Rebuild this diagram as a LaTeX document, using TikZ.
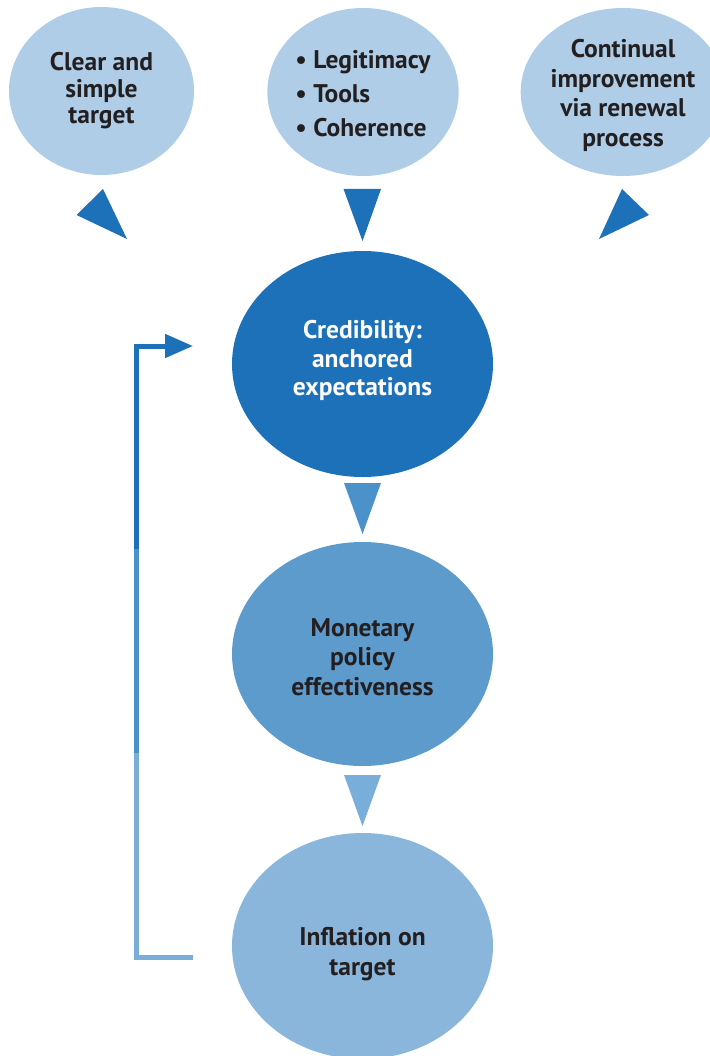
\documentclass[tikz,border=0pt]{standalone}
\usepackage{fontspec}
\setmainfont{PT Sans}
\usepackage{tikz}
\usetikzlibrary{shapes.geometric,arrows.meta}
\definecolor{paleblue}{HTML}{AFCDE7}
\definecolor{deepblue}{HTML}{1D71B8}
\definecolor{midblue}{HTML}{5D9BCD}
\definecolor{midtri}{HTML}{4C92CA}
\definecolor{lightblue}{HTML}{8AB6DC}
\definecolor{lighttri}{HTML}{7AAEDA}
\definecolor{inktext}{HTML}{231F20}
\newcommand{\txt}[1]{\fontsize{25.5}{#1}\selectfont\bfseries}

\begin{document}
\begin{tikzpicture}[x=1pt,y=-1pt]
        \useasboundingbox (0,0) rectangle (709,1056);

        \node[shape=ellipse,fill=paleblue,inner sep=0pt,minimum width=185pt,minimum height=168pt,text=inktext,align=center,font=\txt{26.5}] (clear) at (101.5,91) {Clear and\\simple\\target};
        \node[shape=ellipse,fill=paleblue,inner sep=0pt,minimum width=185pt,minimum height=168pt,text=inktext,align=left,font=\txt{34}] (legit) at (363,92) {\rule{0pt}{22pt}\textbullet\ Legitimacy\\\textbullet\ Tools\\\textbullet\ Coherence};
        \node[shape=ellipse,fill=paleblue,inner sep=0pt,minimum width=185pt,minimum height=168pt,text=inktext,align=center,font=\txt{29.5}] (renew) at (623,92) {\rule{0pt}{25pt}Continual\\improvement\\via renewal\\process};

        \node[shape=ellipse,fill=deepblue,inner sep=0pt,minimum width=261pt,minimum height=226pt,text=white,align=center,font=\txt{28.5}] (cred) at (362.5,364) {Credibility:\\anchored\\expectations\rule[-12pt]{0pt}{12pt}};
        \node[shape=ellipse,fill=midblue,inner sep=0pt,minimum width=261pt,minimum height=224pt,text=inktext,align=center,font=\txt{29.5}] (effect) at (362.5,654) {\rule{0pt}{24pt}Monetary\\policy\\effectiveness};
        \node[shape=ellipse,fill=lightblue,inner sep=0pt,minimum width=261pt,minimum height=226pt,text=inktext,align=center,font=\txt{30}] (infl) at (362.5,946) {\rule{0pt}{35pt}Inflation on\\target};

        %pointers round the top
        \fill[deepblue] (76.5,215) -- (103,189) -- (127,239) -- cycle;
        \fill[deepblue] (343.5,189) -- (381,189) -- (362.5,241) -- cycle;
        \fill[deepblue] (622,189) -- (649,215) -- (599,239) -- cycle;

        %pointers down the chain
        \fill[midtri] (344,483) -- (381,483) -- (362.5,534) -- cycle;
        \fill[lighttri] (344,775) -- (381,775) -- (362.5,826) -- cycle;

        %feedback from inflation back to credibility
        \coordinate (fbstart) at (193,957);
        \coordinate (fbend) at (193,346);
        \draw[line width=5pt,lighttri] (fbstart) -- (136,957) -- (136,752);
        \draw[line width=5pt,midtri] (136,753) -- (136,548);
        \draw[line width=5pt,deepblue,-{Triangle[length=28pt,width=23pt]}] (136,549) -- (136,346) -- (fbend);
\end{tikzpicture}
\end{document}
